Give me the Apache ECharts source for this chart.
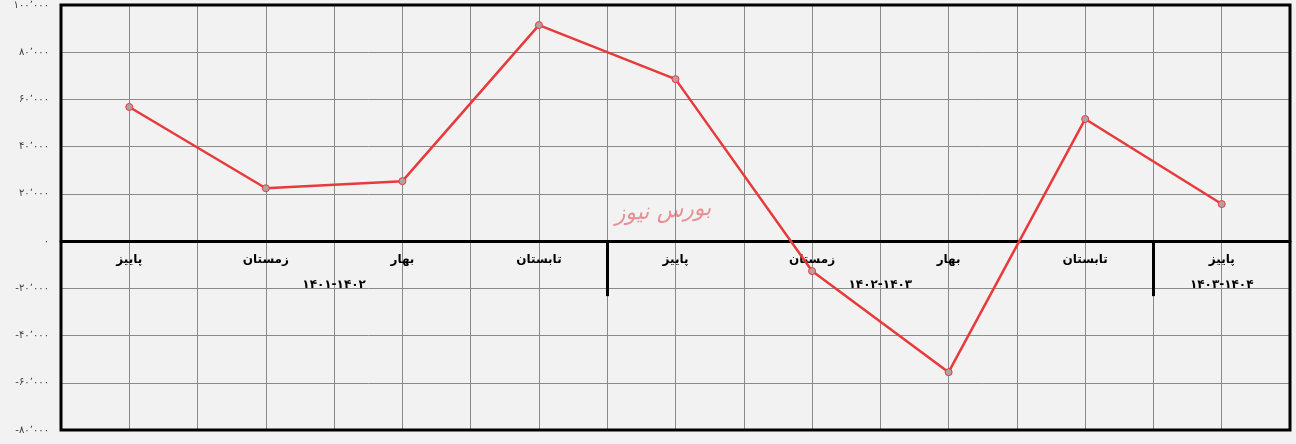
<!DOCTYPE html>
<html><head><meta charset="utf-8">
<script src="https://cdn.jsdelivr.net/npm/echarts@6/dist/echarts.min.js"></script>
<style>html,body{margin:0;padding:0;background:#f2f2f2}#c{width:1296px;height:444px}</style>
</head><body><div id="c"></div>
<script>
const categories = ['پاییز','زمستان','بهار','تابستان','پاییز','زمستان','بهار','تابستان','پاییز'];
const values = [56800, 22400, 25400, 91500, 68600, -12700, -55500, 51700, 15700];
const groupNames = ['۱۴۰۱-۱۴۰۲','۱۴۰۲-۱۴۰۳','۱۴۰۳-۱۴۰۴'];
const groupCenters = [1.5, 5.5, 8];
const groupSeparators = [3.5, 7.5];
const yTicks = [100000, 80000, 60000, 40000, 20000, 0, -20000, -40000, -60000, -80000];
const yTickLabels = ['۱۰۰٬۰۰۰','۸۰٬۰۰۰','۶۰٬۰۰۰','۴۰٬۰۰۰','۲۰٬۰۰۰','۰','-۲۰٬۰۰۰','-۴۰٬۰۰۰','-۶۰٬۰۰۰','-۸۰٬۰۰۰'];

const FONT = 'DejaVu Sans';
const chart = echarts.init(document.getElementById('c'));
const lineData = values.map((v,i)=>[i,v]);
const sepDepth = -23300;

const labelStyle = {color: '#000', fontFamily: FONT, fontWeight: 'bold', fontSize: 12, opacity: 1, textBorderWidth: 0};

chart.setOption({
  backgroundColor: '#f2f2f2',
  animation: false,
  grid: {left: 61, right: 6, top: 5, bottom: 14, outerBoundsMode: 'none', containLabel: false,
         show: true, borderColor: '#000', borderWidth: 3, backgroundColor: 'transparent', z: 3},
  xAxis: {
    type: 'value', min: -0.5, max: 8.5, interval: 0.5,
    axisLine: {onZero: true, lineStyle: {color: '#000', width: 3}},
    axisTick: {show: false},
    splitLine: {show: true, lineStyle: {color: '#8a8a8a', width: 1}},
    axisLabel: {show: false}
  },
  yAxis: {
    type: 'value', min: -80000, max: 100000, interval: 20000,
    axisLine: {show: false, onZero: false},
    axisTick: {show: false},
    splitLine: {show: true, lineStyle: {color: '#8a8a8a', width: 1}},
    axisLabel: {
      margin: 12, color: '#404040', fontFamily: FONT, fontSize: 10,
      formatter: v => { const i = yTicks.indexOf(v); return i >= 0 ? yTickLabels[i] : ''; }
    }
  },
  graphic: [{
    type: 'text', left: 614, top: 198, rotation: 0.06,
    style: {text: 'بورس نیوز', font: 'italic 22px "DejaVu Sans"', fill: 'rgba(228,110,118,0.75)'}
  }],
  series: [{
    type: 'line', data: lineData,
    lineStyle: {color: '#e8393b', width: 2.5},
    symbol: 'circle', symbolSize: 7,
    itemStyle: {color: '#b0a3a3', borderColor: '#e8393b', borderWidth: 1},
    z: 5,
    markLine: {
      silent: true, symbol: 'none', label: {show: false},
      lineStyle: {color: '#000', width: 3, type: 'solid'},
      data: groupSeparators.map(x => [{coord: [x, 0]}, {coord: [x, sepDepth]}])
    }
  },{
    type: 'scatter', symbolSize: 0, silent: true,
    itemStyle: {opacity: 1},
    data: categories.map((c, i) => [i, 0]),
    label: Object.assign({show: true, position: 'bottom', distance: 0, offset: [0, 13],
      formatter: p => categories[p.dataIndex]}, labelStyle),
    z: 4
  },{
    type: 'scatter', symbolSize: 0, silent: true,
    itemStyle: {opacity: 1},
    data: groupCenters.map(x => [x, 0]),
    label: Object.assign({show: true, position: 'bottom', distance: 0, offset: [0, 38],
      formatter: p => groupNames[p.dataIndex]}, labelStyle),
    z: 4
  }]
});
</script></body></html>
